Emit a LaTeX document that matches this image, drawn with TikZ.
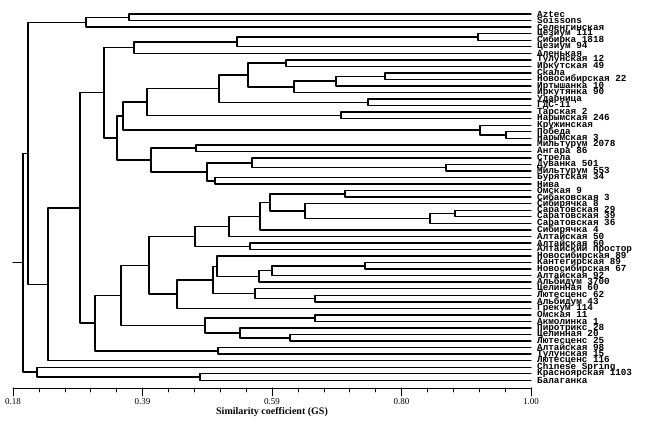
\documentclass[tikz,border=0pt]{standalone}
\usepackage{fontspec}
\setmainfont{Liberation Serif}
\newfontfamily\leaffont{Liberation Mono}
\usepackage{tikz}

\begin{document}
\begin{tikzpicture}[line cap=round,line join=round,x=1pt,y=-1pt,
    leaf/.style={anchor=west,inner xsep=6pt,inner ysep=0pt,font=\leaffont\bfseries\fontsize{9.3}{9.3}\selectfont},
    br/.style={line width=1.4pt},
    ticklab/.style={inner sep=0pt,font=\fontsize{9}{9}\selectfont}]
  \useasboundingbox (0,0) rectangle (647,424);

  % leaves
  \node[leaf] (t1) at (531,14.0) {Aztec};
  \node[leaf] (t2) at (531,20.5) {Soissons};
  \node[leaf] (t3) at (531,27.1) {Селенгинская};
  \node[leaf] (t4) at (531,33.6) {Цезиум 111};
  \node[leaf] (t5) at (531,40.2) {Сибирка 1818};
  \node[leaf] (t6) at (531,46.7) {Цезиум 94};
  \node[leaf] (t7) at (531,53.2) {Аленькая};
  \node[leaf] (t8) at (531,59.8) {Тулунская 12};
  \node[leaf] (t9) at (531,66.3) {Иркутская 49};
  \node[leaf] (t10) at (531,72.9) {Скала};
  \node[leaf] (t11) at (531,79.4) {Новосибирская 22};
  \node[leaf] (t12) at (531,85.9) {Иртышанка 10};
  \node[leaf] (t13) at (531,92.5) {Иркутянка 90};
  \node[leaf] (t14) at (531,99.0) {Ударница};
  \node[leaf] (t15) at (531,105.6) {ГДС-11};
  \node[leaf] (t16) at (531,112.1) {Тарская 2};
  \node[leaf] (t17) at (531,118.6) {Нарымская 246};
  \node[leaf] (t18) at (531,125.2) {Кружинская};
  \node[leaf] (t19) at (531,131.7) {Победа};
  \node[leaf] (t20) at (531,138.3) {Нарымская 3};
  \node[leaf] (t21) at (531,144.8) {Мильтурум 2078};
  \node[leaf] (t22) at (531,151.3) {Ангара 86};
  \node[leaf] (t23) at (531,157.9) {Стрела};
  \node[leaf] (t24) at (531,164.4) {Дуванка 501};
  \node[leaf] (t25) at (531,171.0) {Мильтурум 553};
  \node[leaf] (t26) at (531,177.5) {Бурятская 34};
  \node[leaf] (t27) at (531,184.0) {Нива};
  \node[leaf] (t28) at (531,190.6) {Омская 9};
  \node[leaf] (t29) at (531,197.1) {Сибаковская 3};
  \node[leaf] (t30) at (531,203.7) {Сибирячка 8};
  \node[leaf] (t31) at (531,210.2) {Саратовская 29};
  \node[leaf] (t32) at (531,216.7) {Саратовская 39};
  \node[leaf] (t33) at (531,223.3) {Саратовская 36};
  \node[leaf] (t34) at (531,229.8) {Сибирячка 4};
  \node[leaf] (t35) at (531,236.4) {Алтайская 50};
  \node[leaf] (t36) at (531,242.9) {Алтайская 60};
  \node[leaf] (t37) at (531,249.4) {Алтайский простор};
  \node[leaf] (t38) at (531,256.0) {Новосибирская 89};
  \node[leaf] (t39) at (531,262.5) {Кантегирская 89};
  \node[leaf] (t40) at (531,269.1) {Новосибирская 67};
  \node[leaf] (t41) at (531,275.6) {Алтайская 92};
  \node[leaf] (t42) at (531,282.1) {Альбидум 3700};
  \node[leaf] (t43) at (531,288.7) {Целинная 60};
  \node[leaf] (t44) at (531,295.2) {Лютесценс 62};
  \node[leaf] (t45) at (531,301.8) {Альбидум 43};
  \node[leaf] (t46) at (531,308.3) {Грекум 114};
  \node[leaf] (t47) at (531,314.8) {Омская 11};
  \node[leaf] (t48) at (531,321.4) {Акмолинка 1};
  \node[leaf] (t49) at (531,327.9) {Пиротрикс 28};
  \node[leaf] (t50) at (531,334.5) {Целинная 20};
  \node[leaf] (t51) at (531,341.0) {Лютесценс 25};
  \node[leaf] (t52) at (531,347.5) {Алтайская 98};
  \node[leaf] (t53) at (531,354.1) {Тулунская 15};
  \node[leaf] (t54) at (531,360.6) {Лютесценс 116};
  \node[leaf] (t55) at (531,367.2) {Chinese Spring};
  \node[leaf] (t56) at (531,373.7) {Красноярская 1103};
  \node[leaf] (t57) at (531,380.2) {Балаганка};

  % joins, upper part
  \coordinate (az1) at (129,17.3);
  \coordinate (az2) at (86,22.2);
  \coordinate (cz1) at (478,36.9);
  \coordinate (cz2) at (237,41.8);
  \coordinate (cz3) at (134,47.5);
  \coordinate (tu1) at (286,63.1);
  \coordinate (sk1) at (385,76.2);
  \coordinate (sk2) at (336,81.0);
  \coordinate (sk3) at (294,86.8);
  \coordinate (tu2) at (248,74.9);
  \coordinate (ud1) at (368,102.3);
  \coordinate (tu3) at (219,88.6);
  \coordinate (ta1) at (341,115.4);
  \coordinate (tu4) at (147,102.0);
  \coordinate (po1) at (506,135.0);
  \coordinate (po2) at (480,130.1);
  \coordinate (tu5) at (123,116.0);
  \coordinate (mi1) at (196,148.1);
  \coordinate (du1) at (446,167.7);
  \coordinate (du2) at (252,162.8);
  \coordinate (bu1) at (215,180.8);
  \coordinate (du3) at (207,171.8);
  \coordinate (mi2) at (151,160.0);
  \coordinate (tu6) at (117,138.0);
  \coordinate (tu7) at (104,92.7);

  % joins, lower part
  \coordinate (om1) at (345,193.9);
  \coordinate (sa1) at (455,213.5);
  \coordinate (sa2) at (430,218.4);
  \coordinate (sa3) at (305,211.0);
  \coordinate (om2) at (270,202.5);
  \coordinate (om3) at (260,216.2);
  \coordinate (al1) at (229,226.3);
  \coordinate (al2) at (250,246.2);
  \coordinate (al3) at (195,236.2);
  \coordinate (nv1) at (365,265.8);
  \coordinate (nv2) at (272,270.7);
  \coordinate (nv3) at (259,276.4);
  \coordinate (nv4) at (217,266.2);
  \coordinate (lu1) at (315,298.5);
  \coordinate (lu2) at (255,293.6);
  \coordinate (nv5) at (213,279.9);
  \coordinate (gr1) at (177,294.1);
  \coordinate (al4) at (149,265.2);
  \coordinate (om4) at (315,318.1);
  \coordinate (ce1) at (290,337.8);
  \coordinate (pi1) at (240,332.8);
  \coordinate (om5) at (205,325.5);
  \coordinate (al5) at (121,295.4);
  \coordinate (at1) at (218,350.8);
  \coordinate (al6) at (95,323.1);
  \coordinate (tu8) at (80,207.9);
  \coordinate (tu9) at (48,284.3);
  \coordinate (az3) at (28,153.2);
  \coordinate (ks1) at (200,377.0);
  \coordinate (cs1) at (37,372.1);
  \coordinate (root) at (23,262.7);
  \coordinate (stub) at (13,262.7);

  \draw[br] (t1.west) -| (az1) (t2.west) -| (az1);
  \draw[br] (az1) -| (az2) (t3.west) -| (az2);
  \draw[br] (t4.west) -| (cz1) (t5.west) -| (cz1);
  \draw[br] (cz1) -| (cz2) (t6.west) -| (cz2);
  \draw[br] (cz2) -| (cz3) (t7.west) -| (cz3);
  \draw[br] (t8.west) -| (tu1) (t9.west) -| (tu1);
  \draw[br] (t10.west) -| (sk1) (t11.west) -| (sk1);
  \draw[br] (sk1) -| (sk2) (t12.west) -| (sk2);
  \draw[br] (sk2) -| (sk3) (t13.west) -| (sk3);
  \draw[br] (tu1) -| (tu2) (sk3) -| (tu2);
  \draw[br] (t14.west) -| (ud1) (t15.west) -| (ud1);
  \draw[br] (tu2) -| (tu3) (ud1) -| (tu3);
  \draw[br] (t16.west) -| (ta1) (t17.west) -| (ta1);
  \draw[br] (tu3) -| (tu4) (ta1) -| (tu4);
  \draw[br] (t19.west) -| (po1) (t20.west) -| (po1);
  \draw[br] (t18.west) -| (po2) (po1) -| (po2);
  \draw[br] (tu4) -| (tu5) (po2) -| (tu5);
  \draw[br] (t21.west) -| (mi1) (t22.west) -| (mi1);
  \draw[br] (t24.west) -| (du1) (t25.west) -| (du1);
  \draw[br] (t23.west) -| (du2) (du1) -| (du2);
  \draw[br] (t26.west) -| (bu1) (t27.west) -| (bu1);
  \draw[br] (du2) -| (du3) (bu1) -| (du3);
  \draw[br] (mi1) -| (mi2) (du3) -| (mi2);
  \draw[br] (tu5) -| (tu6) (mi2) -| (tu6);
  \draw[br] (cz3) -| (tu7) (tu6) -| (tu7);

  \draw[br] (t28.west) -| (om1) (t29.west) -| (om1);
  \draw[br] (t31.west) -| (sa1) (t32.west) -| (sa1);
  \draw[br] (sa1) -| (sa2) (t33.west) -| (sa2);
  \draw[br] (t30.west) -| (sa3) (sa2) -| (sa3);
  \draw[br] (om1) -| (om2) (sa3) -| (om2);
  \draw[br] (om2) -| (om3) (t34.west) -| (om3);
  \draw[br] (om3) -| (al1) (t35.west) -| (al1);
  \draw[br] (t36.west) -| (al2) (t37.west) -| (al2);
  \draw[br] (al1) -| (al3) (al2) -| (al3);
  \draw[br] (t39.west) -| (nv1) (t40.west) -| (nv1);
  \draw[br] (nv1) -| (nv2) (t41.west) -| (nv2);
  \draw[br] (nv2) -| (nv3) (t42.west) -| (nv3);
  \draw[br] (t38.west) -| (nv4) (nv3) -| (nv4);
  \draw[br] (t44.west) -| (lu1) (t45.west) -| (lu1);
  \draw[br] (t43.west) -| (lu2) (lu1) -| (lu2);
  \draw[br] (nv4) -| (nv5) (lu2) -| (nv5);
  \draw[br] (nv5) -| (gr1) (t46.west) -| (gr1);
  \draw[br] (al3) -| (al4) (gr1) -| (al4);
  \draw[br] (t47.west) -| (om4) (t48.west) -| (om4);
  \draw[br] (t50.west) -| (ce1) (t51.west) -| (ce1);
  \draw[br] (t49.west) -| (pi1) (ce1) -| (pi1);
  \draw[br] (om4) -| (om5) (pi1) -| (om5);
  \draw[br] (al4) -| (al5) (om5) -| (al5);
  \draw[br] (t52.west) -| (at1) (t53.west) -| (at1);
  \draw[br] (al5) -| (al6) (at1) -| (al6);
  \draw[br] (tu7) -| (tu8) (al6) -| (tu8);
  \draw[br] (tu8) -| (tu9) (t54.west) -| (tu9);
  \draw[br] (az2) -| (az3) (tu9) -| (az3);
  \draw[br] (t56.west) -| (ks1) (t57.west) -| (ks1);
  \draw[br] (t55.west) -| (cs1) (ks1) -| (cs1);
  \draw[br] (az3) -| (root) (cs1) -| (root);
  \draw[br] (stub) -- (root);

  % scale
  \draw[line width=0.6pt] (13,388) -- (531,388);
  \foreach \k in {0,...,20}
    \draw[line width=0.6pt] ({13+\k*25.9},388) -- ({13+\k*25.9},392);
  \foreach \k in {0,5,10,15,20}
    \draw[line width=0.6pt] ({13+\k*25.9},388) -- ({13+\k*25.9},396);
  \node[ticklab] (v1) at (13,402) {0.18};
  \node[ticklab] (v2) at (142.5,402) {0.39};
  \node[ticklab] (v3) at (272,402) {0.59};
  \node[ticklab] (v4) at (401.5,402) {0.80};
  \node[ticklab] (v5) at (531,402) {1.00};
  \node[inner sep=0pt,font=\bfseries\fontsize{10}{10}\selectfont] (gs) at (272,412) {Similarity coefficient (GS)};
\end{tikzpicture}
\end{document}
